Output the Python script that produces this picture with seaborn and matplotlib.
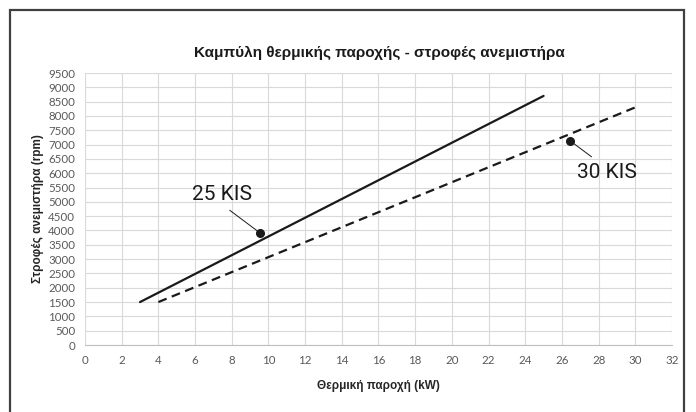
import pandas as pd
import seaborn as sns
import matplotlib
matplotlib.use('Agg')
import matplotlib.pyplot as plt
from matplotlib.patches import Rectangle

# data
power_25 = [3, 25]
rpm_25 = [1500, 8700]
power_30 = [4, 30]
rpm_30 = [1500, 8300]
models = ['25 KIS', '30 KIS']
dot_25 = (9.55, 3910)
dot_30 = (26.45, 7130)
x_ticks = list(range(0, 33, 2))
y_ticks = list(range(0, 9501, 500))

df = pd.concat([
    pd.DataFrame({'power': power_25, 'rpm': rpm_25, 'model': models[0]}),
    pd.DataFrame({'power': power_30, 'rpm': rpm_30, 'model': models[1]}),
], ignore_index=True)

sns.set_style('white')
plt.rcParams['font.family'] = ['Liberation Sans', 'DejaVu Sans']

fig = plt.figure(figsize=(6.96, 4.12), dpi=100)
ax = fig.add_axes([0.1221, 0.1626, 0.8434, 0.6602])

sns.lineplot(data=df, x='power', y='rpm', style='model', color='#1a1a1a',
             linewidth=1.6, dashes={models[0]: '', models[1]: (4, 2.5)},
             legend=False, ax=ax)

ax.set_xlim(0, 32)
ax.set_ylim(0, 9500)
ax.set_xticks(x_ticks)
ax.set_yticks(y_ticks)
ax.grid(True, color='#d9d9d9', linewidth=0.8)
ax.set_axisbelow(True)
for s in ['top', 'right', 'left']:
    ax.spines[s].set_visible(False)
ax.spines['bottom'].set_color('#bfbfbf')
ax.spines['bottom'].set_linewidth(0.8)
ax.tick_params(length=0, labelsize=8.3, labelcolor='#595959', pad=7)
for lab in ax.get_xticklabels() + ax.get_yticklabels():
    lab.set_family(['Lato', 'DejaVu Sans'])

ax.set_xlabel('Θερμική παροχή (kW)', fontsize=8.5, fontweight='bold', labelpad=10)
ax.set_ylabel('Στροφές ανεμιστήρα (rpm)', fontsize=8.5, fontweight='bold', labelpad=3)
fig.text(0.545, 0.871, 'Καμπύλη θερμικής παροχής - στροφές ανεμιστήρα',
         ha='center', va='center', fontsize=11, fontweight='bold', color='#1a1a1a')

# annotations
label_font = ['Roboto', 'DejaVu Sans']
ax.plot(*dot_25, 'o', color='#1a1a1a', markersize=5.5)
ax.plot(*dot_30, 'o', color='#1a1a1a', markersize=5.5)
ax.annotate('25 KIS', xy=dot_25, xytext=(7.47, 5240), ha='center', va='center',
            fontsize=15, family=label_font, color='#1a1a1a',
            arrowprops=dict(arrowstyle='-', color='#1a1a1a', lw=0.7,
                            relpos=(0.5, 0), shrinkA=3, shrinkB=2))
ax.annotate('30 KIS', xy=dot_30, xytext=(28.46, 6040), ha='center', va='center',
            fontsize=15, family=label_font, color='#1a1a1a',
            arrowprops=dict(arrowstyle='-', color='#1a1a1a', lw=0.7,
                            relpos=(0.37, 1), shrinkA=3, shrinkB=2))

# outer chart frame
fig.patches.append(Rectangle((10 / 696, -0.02), 674 / 696, 1 - 10 / 412 + 0.02,
                             transform=fig.transFigure, fill=False,
                             edgecolor='#404040', linewidth=1.6))

fig.savefig('out.png', dpi=100)
